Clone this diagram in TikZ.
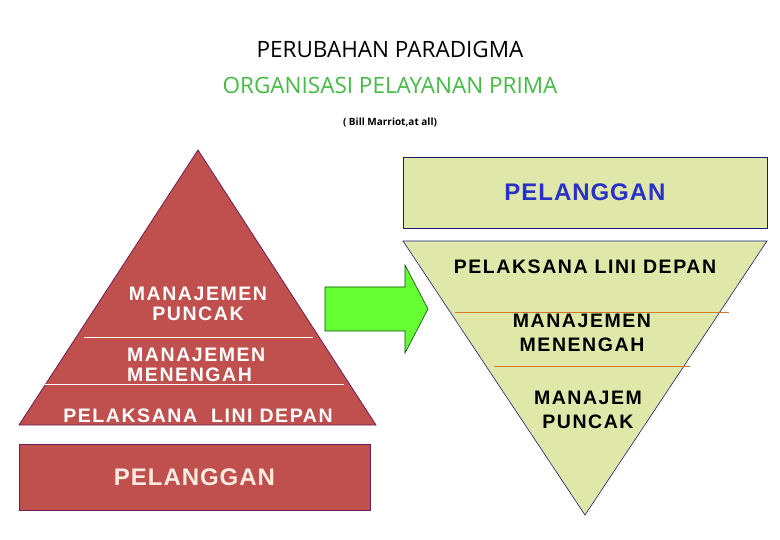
\documentclass[tikz,border=0pt]{standalone}
\usepackage{fontspec}
\setmainfont{Liberation Sans}
\newfontfamily\titlefont{Open Sans}
\definecolor{pyr}{RGB}{192,80,77}
\definecolor{pyrline}{RGB}{110,30,90}
\definecolor{lg}{RGB}{223,232,168}
\definecolor{arrg}{RGB}{102,255,51}
\definecolor{ttlg}{RGB}{70,185,70}
\definecolor{blu}{RGB}{40,50,200}
\definecolor{org}{RGB}{210,120,40}
\tikzset{
 wt/.style={text=white,font=\bfseries\fontsize{19.5}{20}\selectfont,align=center,inner sep=0pt},
 bt/.style={text=black,font=\bfseries\fontsize{19.5}{24}\selectfont,align=center,inner sep=0pt},
}
\begin{document}
\begin{tikzpicture}[x=1pt,y=-1pt]
\useasboundingbox (0,0) rectangle (780,540);
\node[font=\titlefont\fontsize{22.5}{24}\selectfont] (t1) at (390,49) {PERUBAHAN PARADIGMA};
\node[font=\titlefont\fontsize{22.5}{24}\selectfont,text=ttlg] (t2) at (390,85) {ORGANISASI PELAYANAN PRIMA};
\node[font=\titlefont\bfseries\fontsize{10}{11}\selectfont] (t3) at (390,122) {( Bill Marriot,at all)};
% left pyramid
\draw[fill=pyr,draw=pyrline,line width=0.8pt] (198,150) -- (376,425) -- (19,425) -- cycle;
\draw[white,line width=0.6pt] (84,337) -- (313,337);
\draw[white,line width=0.6pt] (45,384) -- (344,384);
\node[wt] (lp) at (198,304) {\addfontfeature{LetterSpace=8}MANAJEMEN\\\addfontfeature{LetterSpace=8}PUNCAK};
\node[wt,align=left,anchor=west] (lm) at (127,365) {\addfontfeature{LetterSpace=8}MANAJEMEN\\\addfontfeature{LetterSpace=8}MENENGAH};
\node[wt] (ll) at (198,416) {\addfontfeature{LetterSpace=8}PELAKSANA\ \ LINI DEPAN};
\node[draw=pyrline,fill=pyr,minimum width=351,minimum height=66,inner sep=0pt,text={rgb,255:red,250;green,235;blue,225},font=\bfseries\fontsize{24}{26}\selectfont] (lc) at (194.5,477) {\addfontfeature{LetterSpace=4}PELANGGAN};
% arrow
\draw[fill=arrg,draw=black!70!green,line width=0.6pt] (325,287) -- (405,287) -- (405,265) -- (428,309) -- (405,353) -- (405,331) -- (325,331) -- cycle;
% right
\node[draw=blu!60!black,fill=lg,minimum width=364,minimum height=71,inner sep=0pt,text=blu,font=\bfseries\fontsize{24}{26}\selectfont] (rc) at (585,192.5) {\addfontfeature{LetterSpace=4}PELANGGAN};
\draw[fill=lg,draw=blu!60!black,line width=0.6pt] (403,241) -- (767,241) -- (585,515) -- cycle;
\draw[org,line width=0.7pt] (455,312) -- (729,312);
\draw[org,line width=0.7pt] (494,366) -- (690,366);
\node[bt] (rl) at (585,267) {\addfontfeature{LetterSpace=8}PELAKSANA LINI DEPAN};
\node[bt] (rm) at (582,333) {\addfontfeature{LetterSpace=8}MANAJEMEN\\\addfontfeature{LetterSpace=8}MENENGAH};
\node[bt] (rp) at (588,410) {\addfontfeature{LetterSpace=8}MANAJEM\\\addfontfeature{LetterSpace=8}PUNCAK};
\end{tikzpicture}
\end{document}
